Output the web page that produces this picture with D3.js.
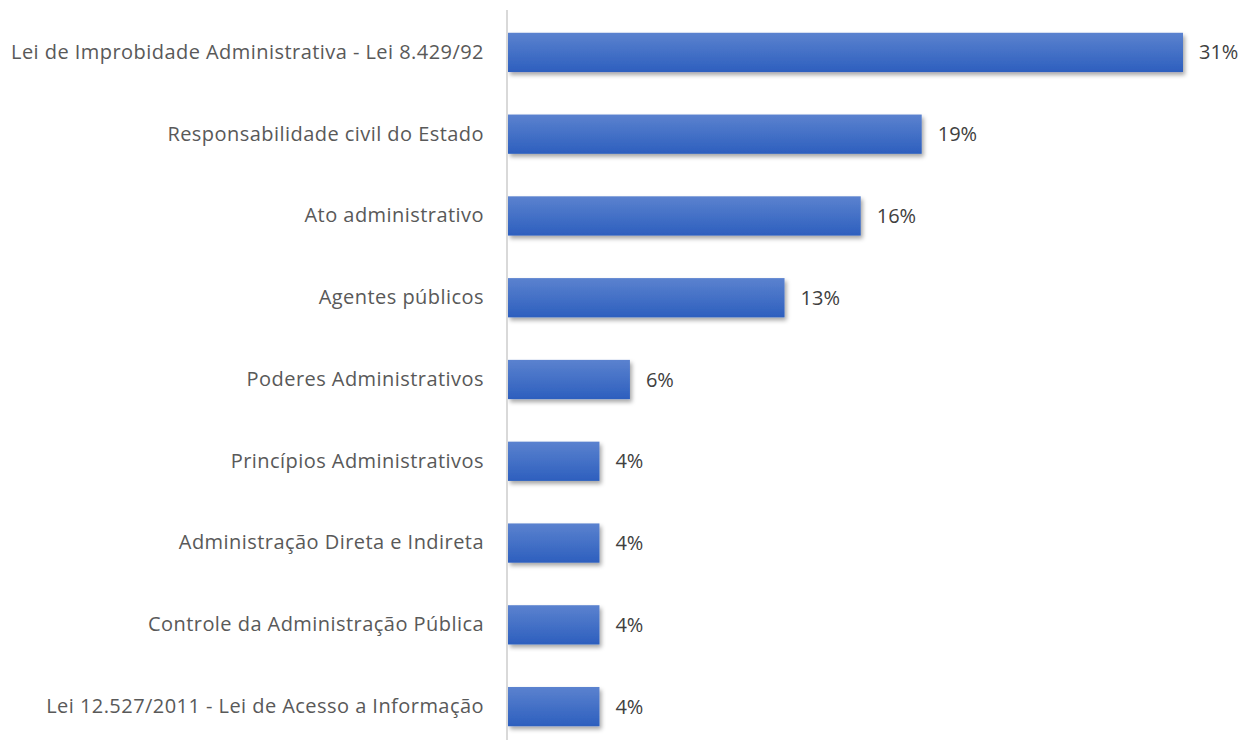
<!DOCTYPE html>
<html>
<head>
<meta charset="utf-8">
<script src="https://cdn.jsdelivr.net/npm/d3@7"></script>
<style>
  body { margin: 0; background: #fff; }
</style>
</head>
<body>
<div class="container"></div>
<script>
var categories = [
  'Lei de Improbidade Administrativa - Lei 8.429/92',
  'Responsabilidade civil do Estado',
  'Ato administrativo',
  'Agentes públicos',
  'Poderes Administrativos',
  'Princípios Administrativos',
  'Administração Direta e Indireta',
  'Controle da Administração Pública',
  'Lei 12.527/2011 - Lei de Acesso a Informação'
];
var values = [0.31, 0.19, 0.162, 0.127, 0.056, 0.042, 0.042, 0.042, 0.042];
var valueLabels = ['31%', '19%', '16%', '13%', '6%', '4%', '4%', '4%', '4%'];

var w = 1244;
var h = 740;
var x0 = 508;

var svg = d3.select('.container')
  .append('svg')
  .attr('width', w)
  .attr('height', h);

var defs = svg.append('defs');
var grad = defs.append('linearGradient')
  .attr('id', 'barGrad')
  .attr('x1', 0).attr('y1', 0).attr('x2', 0).attr('y2', 1);
grad.append('stop').attr('offset', '0%').attr('stop-color', '#5b82cf');
grad.append('stop').attr('offset', '100%').attr('stop-color', '#2d5fbe');

var shadow = defs.append('filter')
  .attr('id', 'shadow')
  .attr('x', '-10%').attr('y', '-30%')
  .attr('width', '130%').attr('height', '180%');
shadow.append('feDropShadow')
  .attr('dx', 2).attr('dy', 3)
  .attr('stdDeviation', 2)
  .attr('flood-color', '#000')
  .attr('flood-opacity', 0.35);

var xScale = d3.scaleLinear()
  .domain([0, 0.31])
  .range([x0, 1183]);

var yScale = d3.scaleBand()
  .domain(categories)
  .range([11.5, 747.5])
  .paddingInner(0.52)
  .paddingOuter(0.26);

// bars
svg.selectAll('rect.bar')
  .data(values)
  .enter()
  .append('rect')
  .attr('class', 'bar')
  .attr('x', xScale(0))
  .attr('y', function(d, i) { return yScale(categories[i]); })
  .attr('width', function(d) { return xScale(d) - xScale(0); })
  .attr('height', yScale.bandwidth())
  .attr('fill', 'url(#barGrad)')
  .attr('filter', 'url(#shadow)');

// axis line + category labels
var yAxis = d3.axisLeft(yScale).tickSize(0).tickPadding(23);
var axisG = svg.append('g')
  .attr('transform', 'translate(' + (x0 - 1) + ',0)')
  .call(yAxis);
axisG.select('.domain')
  .attr('d', 'M0,10V740')
  .attr('stroke', '#d9d9d9')
  .attr('stroke-width', 2);
axisG.selectAll('text')
  .attr('fill', '#595959')
  .style('font', '20px "Open Sans", sans-serif')
  .style('letter-spacing', '0.45px');

// value labels
svg.selectAll('text.val')
  .data(values)
  .enter()
  .append('text')
  .attr('class', 'val')
  .attr('x', function(d) { return xScale(d) + 16; })
  .attr('y', function(d, i) { return yScale(categories[i]) + yScale.bandwidth() / 2; })
  .attr('dy', '0.35em')
  .attr('fill', '#404040')
  .style('font', '20px "Open Sans", sans-serif')
  .text(function(d, i) { return valueLabels[i]; });
</script>
</body>
</html>
